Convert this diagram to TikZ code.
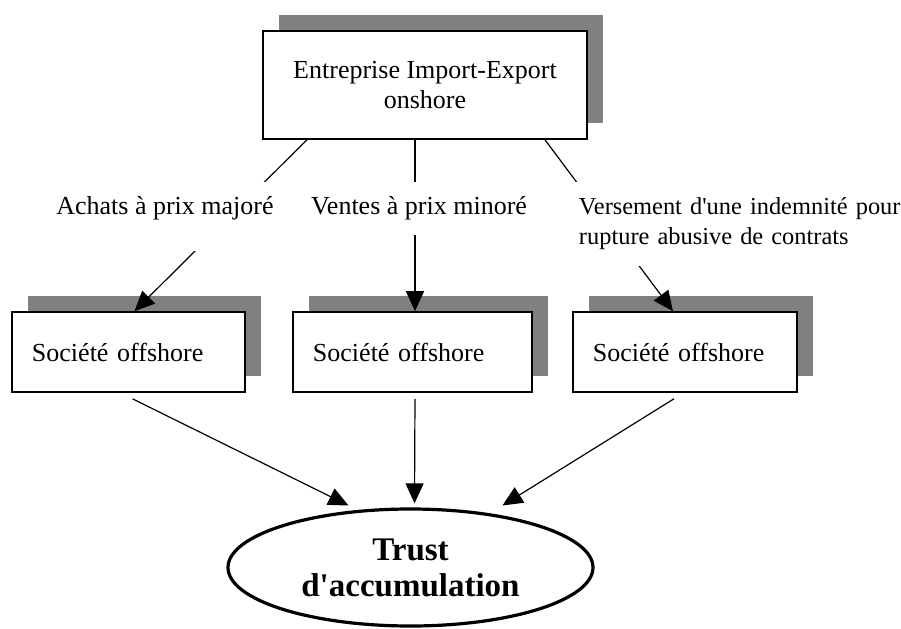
\documentclass[tikz,border=0pt]{standalone}
\usepackage{fontspec}
\setmainfont{Liberation Serif}
\usepackage{xcolor}
\usepackage{tikz}
\usetikzlibrary{shapes,arrows.meta,positioning,shadows}

\begin{document}
\begin{tikzpicture}[node distance=133.5pt, auto]
    % Define styles
    \tikzstyle{firm} = [rectangle, minimum width=162pt, minimum height=54pt, align=center, draw=black, line width=0.8pt, fill=white, font=\fontsize{13}{15}\selectfont, drop shadow={shadow xshift=8pt, shadow yshift=8pt, fill=gray, opacity=1}]
    \tikzstyle{offshore} = [rectangle, minimum height=40pt, inner xsep=10pt, align=left, draw=black, line width=0.8pt, fill=white, font=\fontsize{13}{15}\selectfont, drop shadow={shadow xshift=8pt, shadow yshift=8pt, fill=gray, opacity=1}]
    \tikzstyle{fund} = [ellipse, minimum width=182.5pt, minimum height=58.5pt, align=center, draw=black, line width=1.6pt, fill=white, font=\bfseries\fontsize{16.5}{18}\selectfont]
    \tikzstyle{flow} = [rectangle, inner sep=1.5pt, fill=white, font=\fontsize{13}{15}\selectfont]
    \tikzstyle{link} = [-{Triangle[length=10pt, width=9pt]}, line width=0.6pt]

    \useasboundingbox (-212.5pt,42.5pt) rectangle (238pt,-271.5pt);

    % Nodes
    \node[firm] (import) {Entreprise Import-Export\\onshore};
    \node[offshore, text width=96.5pt, below of=import, xshift=-148.25pt] (off1) {Société offshore};
    \node[offshore, text width=99.5pt, below of=import, xshift=-6.25pt] (off2) {Société offshore};
    \node[offshore, text width=92pt, below of=import, xshift=130pt] (off3) {Société offshore};
    \node[fund, below of=off2, xshift=-1pt, yshift=25.75pt] (trust) {Trust\\d\textquotesingle accumulation};

    % Connections
    \draw[link] ([xshift=-59pt]import.south) -- ([xshift=3pt]off1.north);
    \draw[link] ([xshift=-5pt]import.south) -- ([xshift=1.25pt]off2.north);
    \draw[link] ([xshift=60pt]import.south) -- ([xshift=-6pt]off3.north);
    \draw[link] ([shift={(2pt,-3pt)}]off1.south) -- ([shift={(-31pt,31pt)}]trust.center);
    \draw[link] ([shift={(1.25pt,-3pt)}]off2.south) -- ([shift={(2pt,2pt)}]trust.north);
    \draw[link] ([shift={(-5.5pt,-3pt)}]off3.south) -- ([shift={(46pt,31pt)}]trust.center);

    % Labels (white boxes over the lines)
    \node[flow, minimum width=122pt, text height=14.5pt, text depth=17pt, below of=import, xshift=-130pt, yshift=67.75pt] (buy) {Achats à prix majoré};
    \node[flow, minimum height=26.5pt, below of=import, xshift=-3pt, yshift=71.75pt] (sell) {Ventes à prix minoré};
    \node[flow, text width=165pt, align=left, minimum height=42pt, font=\fontsize{12.2}{15}\selectfont, below of=import, xshift=159.5pt, yshift=64pt] (refund) {Versement d\textquotesingle une indemnité pour\\rupture abusive de contrats};
\end{tikzpicture}
\end{document}
